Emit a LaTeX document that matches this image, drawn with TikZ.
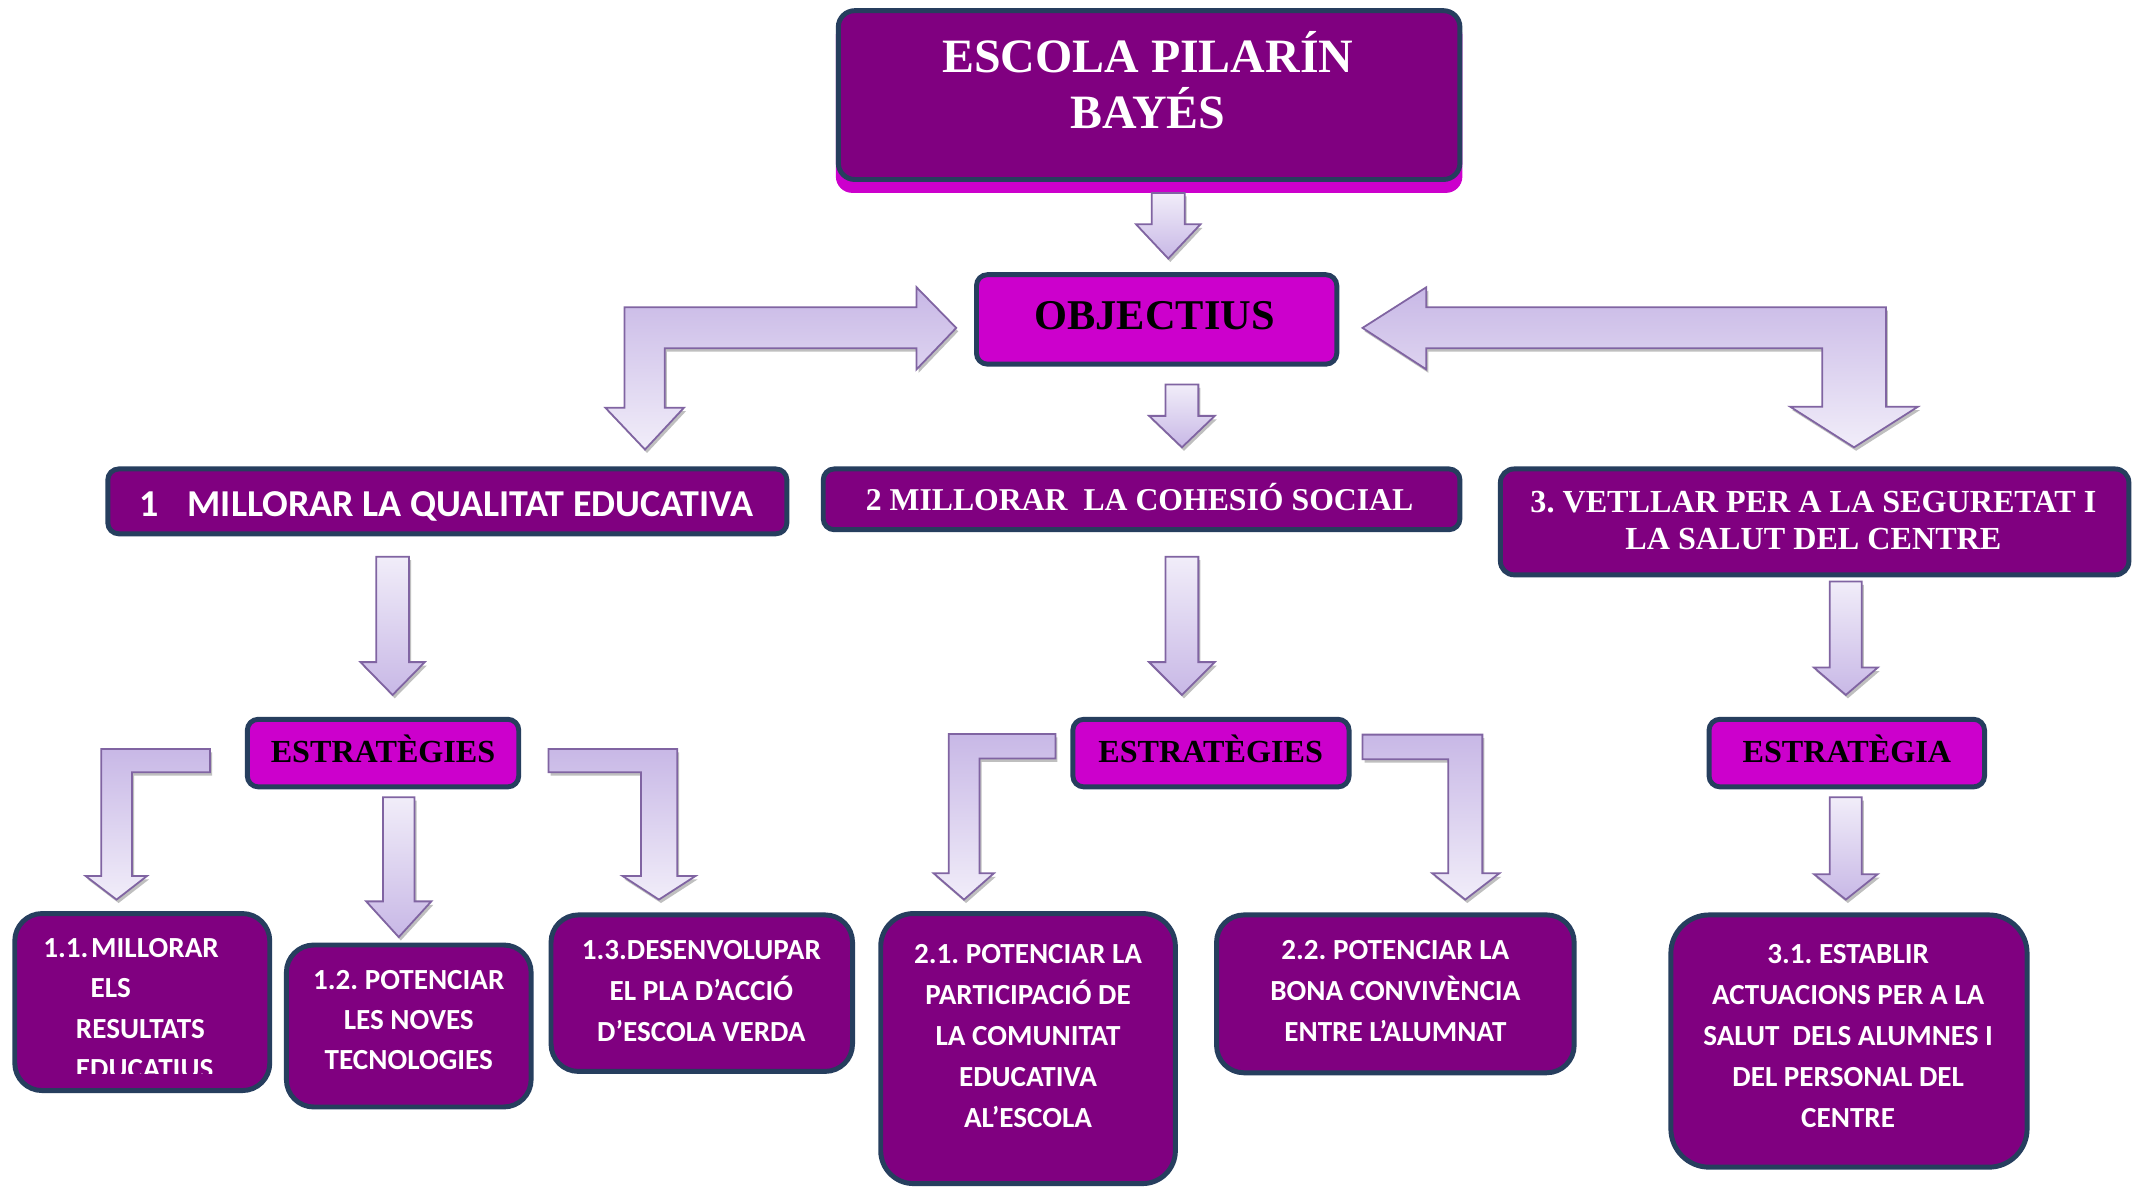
\documentclass[tikz,border=0pt]{standalone}
\usepackage{fontspec}
\setmainfont{Liberation Serif}
\newfontfamily\calfont{Carlito}
\frenchspacing
\definecolor{dpurple}{RGB}{128,0,128}
\definecolor{magbox}{RGB}{204,0,204}
\definecolor{bordercol}{RGB}{38,62,94}
\definecolor{arrdark}{RGB}{200,184,230}
\definecolor{arrlight}{RGB}{241,237,249}
\definecolor{arredge}{RGB}{128,100,162}
\tikzset{
  boxs/.style={draw=bordercol, line width=3.6pt, fill=dpurple, inner sep=0pt},
  magb/.style={boxs, fill=magbox},
  arrshadow/.style={fill=black!45, opacity=0.55},
  arrstyle/.style={draw=arredge, line width=1.3pt, line join=miter},
  dgrad/.style={top color=arrlight, bottom color=arrdark},
  bgrad/.style={top color=arrdark, bottom color=arrlight},
  cal/.style={text=white, inner sep=0pt, anchor=base, font={\calfont\bfseries\fontsize{21.3pt}{21.3pt}\selectfont\frenchspacing}},
  calw/.style={cal, anchor=base west},
  titlef/.style={text=white, inner sep=0pt, anchor=base, font={\bfseries\fontsize{35pt}{35pt}\selectfont}},
  serw/.style={text=white, inner sep=0pt, anchor=base, font={\bfseries\fontsize{23.2pt}{23.2pt}\selectfont\frenchspacing}},
  serb/.style={text=black, inner sep=0pt, anchor=base, font={\bfseries\fontsize{23.5pt}{23.5pt}\selectfont}},
}
\newcommand\blockarr[2]{%
  \fill[arrshadow, shift={(1.5,2.5)}] #2;
  \draw[arrstyle,#1] #2;}
\newcommand\downarr[6]{%
  \blockarr{dgrad}{({#1-#2},#4) -- ({#1+#2},#4) -- ({#1+#2},#5) -- ({#1+#3},#5) -- (#1,#6) -- ({#1-#3},#5) -- ({#1-#2},#5) -- cycle}}
\begin{document}
\begin{tikzpicture}[x=1pt,y=-1pt]
\useasboundingbox (0,0) rectangle (1568,868);
\fill[white] (0,0) rectangle (1568,868);

% ---------- title ----------
\fill[magbox, rounded corners=12pt] (611,14) rectangle (1069,141);
\node[boxs, rounded corners=12pt, minimum width=454.4pt, minimum height=123.4pt] (title) at (840,69.5) {};
\node[titlef] (t1) at (839,53) {ESCOLA PILARÍN};
\node[titlef] (t2) at (839,94) {BAYÉS};

% ---------- objectius ----------
\node[magb, rounded corners=8pt, minimum width=263.4pt, minimum height=65.4pt] (obj) at (845.5,233.5) {};
\node[serb, font={\bfseries\fontsize{31pt}{31pt}\selectfont}] (tobj) at (844,240.5) {OBJECTIUS};

% ---------- level 1 ----------
\node[boxs, rounded corners=8pt, minimum width=496.4pt, minimum height=47.4pt] (o1) at (327,366.5) {};
\node[cal, font={\calfont\bfseries\fontsize{27.8pt}{27.8pt}\selectfont}] (to1) at (326.3,377.6) {1\hspace{21pt}MILLORAR LA QUALITAT EDUCATIVA};
\node[boxs, rounded corners=8pt, minimum width=465.4pt, minimum height=44.4pt] (o2) at (834.5,365) {};
\node[serw] (to2) at (833,373.4) {2 MILLORAR\ \ LA COHESIÓ SOCIAL};
\node[boxs, rounded corners=10pt, minimum width=459.4pt, minimum height=77.4pt] (o3) at (1326.5,381.5) {};
\node[serw, font={\bfseries\fontsize{23.5pt}{23.5pt}\selectfont\frenchspacing}] (to3a) at (1325.6,374.8) {3. VETLLAR PER A LA SEGURETAT I};
\node[serw, font={\bfseries\fontsize{23.5pt}{23.5pt}\selectfont}] (to3b) at (1325.6,401.4) {LA SALUT DEL CENTRE};

% ---------- estrategies ----------
\node[magb, rounded corners=8pt, minimum width=198.4pt, minimum height=49.4pt] (e1) at (280,550.5) {};
\node[serb] (te1) at (280,557.7) {ESTRATÈGIES};
\node[magb, rounded corners=8pt, minimum width=201.9pt, minimum height=49.4pt] (e2) at (885.2,550.5) {};
\node[serb] (te2) at (885,557.7) {ESTRATÈGIES};
\node[magb, rounded corners=8pt, minimum width=201.4pt, minimum height=49.4pt] (e3) at (1350,550.5) {};
\node[serb] (te3) at (1350,557.7) {ESTRATÈGIA};

% ---------- bottom boxes ----------
\node[boxs, rounded corners=20pt, minimum width=186.4pt, minimum height=129.4pt] (b11) at (104,732.5) {};
\node[calw] (b11a) at (31.5,700) {1.1.};
\node[calw] (b11b) at (66.5,700) {MILLORAR};
\node[calw] (b11c) at (66,729.5) {ELS};
\node[calw] (b11d) at (55.3,759) {RESULTATS};
\begin{scope}
  \clip (0,0) rectangle (1568,785);
  \node[calw] (b11e) at (55.3,788.5) {EDUCATIUS};
\end{scope}

\node[boxs, rounded corners=20pt, minimum width=178.9pt, minimum height=118.4pt] (b12) at (298.8,750) {};
\node[cal] (b12a) at (298.8,723) {1.2. POTENCIAR};
\node[cal] (b12b) at (298.8,752.5) {LES NOVES};
\node[cal] (b12c) at (298.8,782) {TECNOLOGIES};

\node[boxs, rounded corners=20pt, minimum width=220.4pt, minimum height=114.4pt] (b13) at (513,726) {};
\node[cal] (b13a) at (512.7,701.4) {1.3.DESENVOLUPAR};
\node[cal] (b13b) at (512.7,731.5) {EL PLA D’ACCIÓ};
\node[cal] (b13c) at (512.7,761.6) {D’ESCOLA VERDA};

\node[boxs, rounded corners=24pt, minimum width=215.4pt, minimum height=197.4pt] (b21) at (751.5,766.5) {};
\node[cal] (b21a) at (751.5,704) {2.1. POTENCIAR LA};
\node[cal] (b21b) at (751.5,734) {PARTICIPACIÓ DE};
\node[cal] (b21c) at (751.5,764) {LA COMUNITAT};
\node[cal] (b21d) at (751.5,794) {EDUCATIVA};
\node[cal] (b21e) at (751.5,824) {AL’ESCOLA};

\node[boxs, rounded corners=20pt, minimum width=261.4pt, minimum height=115.4pt] (b22) at (1020,726.5) {};
\node[cal] (b22a) at (1020,701.4) {2.2. POTENCIAR LA};
\node[cal] (b22b) at (1020,731.5) {BONA CONVIVÈNCIA};
\node[cal] (b22c) at (1020,761.6) {ENTRE L’ALUMNAT};

\node[boxs, rounded corners=28pt, minimum width=260.4pt, minimum height=184.4pt] (b31) at (1351.6,761) {};
\node[cal] (b31a) at (1351,704) {3.1. ESTABLIR};
\node[cal] (b31b) at (1351,734) {ACTUACIONS PER A LA};
\node[cal] (b31c) at (1351,764) {SALUT\ \ DELS ALUMNES I};
\node[cal] (b31d) at (1351,794) {DEL PERSONAL DEL};
\node[cal] (b31e) at (1351,824) {CENTRE};

% ---------- straight arrows ----------
\downarr{854}{12}{23.5}{141}{164}{189}
\downarr{864}{12}{24}{281}{304}{327}
\downarr{287}{12}{23.5}{407}{484}{508}
\downarr{864}{12}{24}{407}{484}{508}
\downarr{1349.3}{11.7}{23.3}{425}{488}{508}
\downarr{291.5}{11.5}{23.8}{582.8}{658.9}{685}
\downarr{1349.3}{11.7}{23.3}{582.8}{639}{657.6}

% ---------- bent arrows ----------
\blockarr{bgrad}{(471.5,328.6) -- (442.5,298) -- (456.5,298) -- (456.5,224.6) -- (670,224.6) -- (670,210) -- (699,239.7) -- (670,270) -- (670,254.5) -- (486,254.5) -- (486,298) -- (500,298) -- cycle}
\blockarr{bgrad}{(996,239.7) -- (1042.6,210) -- (1042.6,224.6) -- (1378.6,224.6) -- (1378.6,297.3) -- (1402,297.3) -- (1355.3,327) -- (1308.6,297.3) -- (1332,297.3) -- (1332,254.5) -- (1042.6,254.5) -- (1042.6,270) -- cycle}
\blockarr{bgrad}{(153.5,547.5) -- (74,547.5) -- (74,640.3) -- (62.5,640.3) -- (85.2,657.6) -- (107.5,640.3) -- (96.5,640.3) -- (96.5,564.5) -- (153.5,564.5) -- cycle}
\blockarr{bgrad}{(401,547.5) -- (495,547.5) -- (495,640.3) -- (508.5,640.3) -- (481.7,657.6) -- (455,640.3) -- (468.5,640.3) -- (468.5,564.5) -- (401,564.5) -- cycle}
\blockarr{bgrad}{(771.5,536.6) -- (693.5,536.6) -- (693.5,638.4) -- (682.5,638.4) -- (704.7,657.6) -- (726.5,638.4) -- (716,638.4) -- (716,554.4) -- (771.5,554.4) -- cycle}
\blockarr{bgrad}{(996,537) -- (1083.6,537) -- (1083.6,638.4) -- (1096,638.4) -- (1071.1,657.6) -- (1047,638.4) -- (1058.6,638.4) -- (1058.6,555) -- (996,555) -- cycle}
\end{tikzpicture}
\end{document}
